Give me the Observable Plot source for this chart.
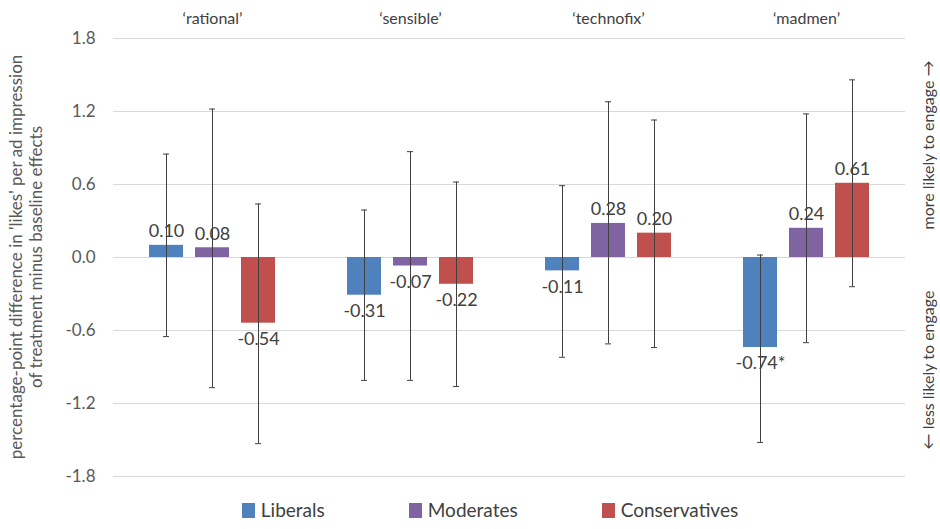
<!DOCTYPE html>
<html>
<head>
<meta charset="utf-8">
<script src="https://cdn.jsdelivr.net/npm/d3@7"></script>
<script src="https://cdn.jsdelivr.net/npm/@observablehq/plot@0.6"></script>
<style>
  body { margin: 0; background: #fff; font-family: Lato, sans-serif; }
  #chart { width: 940px; }
  .legend { display: flex; justify-content: center; gap: 84px; font-size: 19px; color: #404040; margin-top: 3px; padding-left: 40px; }
  .legend span.sw { display: inline-block; width: 13px; height: 15px; margin-right: 6px; vertical-align: -1px; }
</style>
</head>
<body>
<div id="chart"></div>
<script>
const frames = ["‘rational’", "‘sensible’", "‘technofix’", "‘madmen’"]
const groups = ["Liberals", "Moderates", "Conservatives"]
const colors = ["#4f81bd", "#8064a2", "#c0504d"]
// per frame: Liberals, Moderates, Conservatives
const values = [[0.10, 0.08, -0.54], [-0.31, -0.07, -0.22], [-0.11, 0.28, 0.20], [-0.74, 0.24, 0.61]]
const labels = [["0.10", "0.08", "-0.54"], ["-0.31", "-0.07", "-0.22"], ["-0.11", "0.28", "0.20"], ["-0.74*", "0.24", "0.61"]]
const upper = [[0.85, 1.22, 0.44], [0.39, 0.87, 0.62], [0.59, 1.28, 1.13], [0.02, 1.18, 1.46]]
const lower = [[-0.65, -1.07, -1.53], [-1.01, -1.01, -1.06], [-0.82, -0.71, -0.74], [-1.52, -0.70, -0.24]]
const yTicks = [-1.8, -1.2, -0.6, 0, 0.6, 1.2, 1.8]

const data = []
frames.forEach((f, i) => groups.forEach((g, j) => {
  data.push({frame: f, group: g, value: values[i][j], label: labels[i][j], hi: upper[i][j], lo: lower[i][j]})
}))

const chart = Plot.plot({
  width: 940,
  height: 495,
  marginTop: 38,
  marginBottom: 19,
  marginLeft: 113,
  marginRight: 35,
  style: {fontFamily: "Lato, sans-serif", fontSize: "17px", color: "#595959"},
  fx: {domain: frames, padding: 0, axis: null, label: null},
  x: {domain: groups, paddingInner: 0.26, paddingOuter: 0.78, axis: null},
  y: {domain: [-1.8, 1.8], ticks: yTicks, tickFormat: d => d.toFixed(1), label: null, tickSize: 0, tickPadding: 18},
  color: {domain: groups, range: colors},
  marks: [
    Plot.gridY(yTicks, {stroke: "#d9d9d9", strokeOpacity: 1}),
    Plot.barY(data, {fx: "frame", x: "group", y: "value", fill: "group"}),
    Plot.ruleX(data, {fx: "frame", x: "group", y1: "lo", y2: "hi", stroke: "#404040", strokeWidth: 1}),
    Plot.tickY(data, {fx: "frame", x: "group", y: "hi", stroke: "#404040", insetLeft: 14, insetRight: 14}),
    Plot.tickY(data, {fx: "frame", x: "group", y: "lo", stroke: "#404040", insetLeft: 14, insetRight: 14}),
    Plot.text(data.filter(d => d.value >= 0), {fx: "frame", x: "group", y: "value", text: "label", dy: -14, fill: "#404040", fontSize: 18}),
    Plot.text(data.filter(d => d.value < 0), {fx: "frame", x: "group", y: "value", text: "label", dy: 16, fill: "#404040", fontSize: 18}),
    Plot.text(frames, {fx: d => d, text: d => d, frameAnchor: "top", dy: -26, fontSize: 16, fill: "#404040"})
  ]
})

const svg = d3.select(chart)
svg.append("text")
  .attr("transform", "translate(22,257) rotate(-90)")
  .attr("text-anchor", "middle").attr("fill", "#595959").style("font-size", "17px")
  .selectAll("tspan").data(["percentage-point difference in 'likes' per ad impression", "of treatment minus baseline effects"])
  .join("tspan").attr("x", 0).attr("dy", (d, i) => i ? "1.2em" : 0).text(d => d)
svg.append("text")
  .attr("transform", "translate(934,145) rotate(-90)")
  .attr("text-anchor", "middle").attr("fill", "#404040").style("font-size", "16px")
  .text("more likely to engage →")
svg.append("text")
  .attr("transform", "translate(934,370) rotate(-90)")
  .attr("text-anchor", "middle").attr("fill", "#404040").style("font-size", "16px")
  .text("← less likely to engage")

d3.select('#chart').append(() => chart)
const legend = d3.select('#chart').append('div').attr('class', 'legend')
groups.forEach((g, i) => {
  const item = legend.append('div')
  item.append('span').attr('class', 'sw').style('background', colors[i])
  item.append('span').text(g)
})
</script>
</body>
</html>
